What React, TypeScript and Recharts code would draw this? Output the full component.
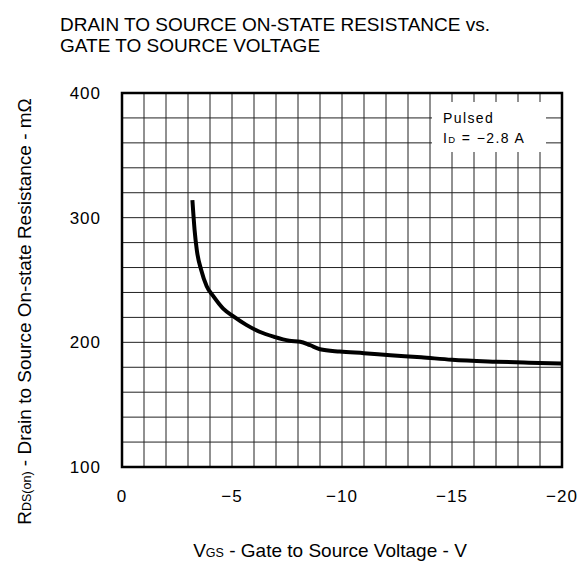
import React from 'react';
import { LineChart, Line, XAxis, YAxis, CartesianGrid, ReferenceArea } from 'recharts';

// V_GS (V) and R_DS(on) (mOhm)
const vgs = [-3.2, -3.3, -3.4, -3.6, -3.85, -4.15, -4.6, -5.05, -5.65, -6.25, -6.9, -7.6, -8.1, -8.55, -9.0, -9.9, -11.0, -12.2, -13.6, -15.0, -17.0, -18.5, -20];
const rds = [314, 290, 274, 258, 245, 237, 227, 221, 214, 208.5, 204.5, 201.3, 200.5, 197.7, 194.5, 192.6, 191.3, 189.7, 188, 186, 184.5, 183.7, 183];

const xTicks = [0, -1, -2, -3, -4, -5, -6, -7, -8, -9, -10, -11, -12, -13, -14, -15, -16, -17, -18, -19, -20];
const yTicks = [100, 120, 140, 160, 180, 200, 220, 240, 260, 280, 300, 320, 340, 360, 380, 400];

const title = ['DRAIN TO SOURCE ON-STATE RESISTANCE vs.', 'GATE TO SOURCE VOLTAGE'];
const legendLines = ['Pulsed', '−2.8 A'];

const data = vgs.map((v, i) => ({ v, r: rds[i] }));

const font = '"Liberation Sans", Arial, sans-serif';

const fmtX = (v: number) => (v % 5 !== 0 ? '' : v === 0 ? '0' : '−' + Math.abs(v));
const fmtY = (v: number) => (v % 100 === 0 ? String(v) : '');

export default function App() {
  const tickStyle = { fontSize: 17, fill: '#000', fontFamily: font, letterSpacing: 1 };
  return (
    <div style={{ position: 'relative', width: 579, height: 565, background: '#fff' }}>
      <style>{`body{margin:0}`}</style>
      <LineChart width={579} height={565} data={data} margin={{ top: 93, right: 17, left: 0, bottom: 0 }}>
        <CartesianGrid stroke="#222" strokeWidth={1} />
        <XAxis
          dataKey="v"
          type="number"
          domain={[-20, 0]}
          reversed
          ticks={xTicks}
          interval={0}
          tickFormatter={fmtX}
          tickLine={false}
          axisLine={false}
          tickMargin={17}
          height={98}
          tick={tickStyle}
        />
        <YAxis
          type="number"
          domain={[100, 400]}
          ticks={yTicks}
          interval={0}
          tickFormatter={fmtY}
          tickLine={false}
          axisLine={false}
          tickMargin={15}
          width={122}
          tick={tickStyle}
        />
        <ReferenceArea x1={-20} x2={0} y1={100} y2={400} fill="none" stroke="#000" strokeWidth={2.5} />
        <Line
          dataKey="r"
          type="monotone"
          stroke="#000"
          strokeWidth={4}
          dot={false}
          isAnimationActive={false}
        />
      </LineChart>
      <svg
        width={579}
        height={565}
        style={{ position: 'absolute', left: 0, top: 0, pointerEvents: 'none' }}
        fontFamily={font}
      >
        <text x={60} y={31} fontSize={19} fill="#000">{title[0]}</text>
        <text x={60} y={52} fontSize={19} fill="#000">{title[1]}</text>

        <rect x={432} y={102} width={114} height={50} fill="#fff" />
        <text x={443} y={123} fontSize={14} letterSpacing={1.4} fill="#000">{legendLines[0]}</text>
        <text x={443} y={143} fontSize={14} letterSpacing={1.4} fill="#000">
          I<tspan fontSize={9.5}>D</tspan> = {legendLines[1]}
        </text>

        <text x={31} y={311.5} fontSize={19} fill="#000" textAnchor="middle" transform="rotate(-90 31 311.5)">
          R<tspan fontSize={12.5}>DS(on)</tspan> - Drain to Source On-state Resistance - mΩ
        </text>

        <text x={330} y={557} fontSize={19} fill="#000" textAnchor="middle">
          V<tspan fontSize={12.5}>GS</tspan> - Gate to Source Voltage - V
        </text>
      </svg>
    </div>
  );
}
